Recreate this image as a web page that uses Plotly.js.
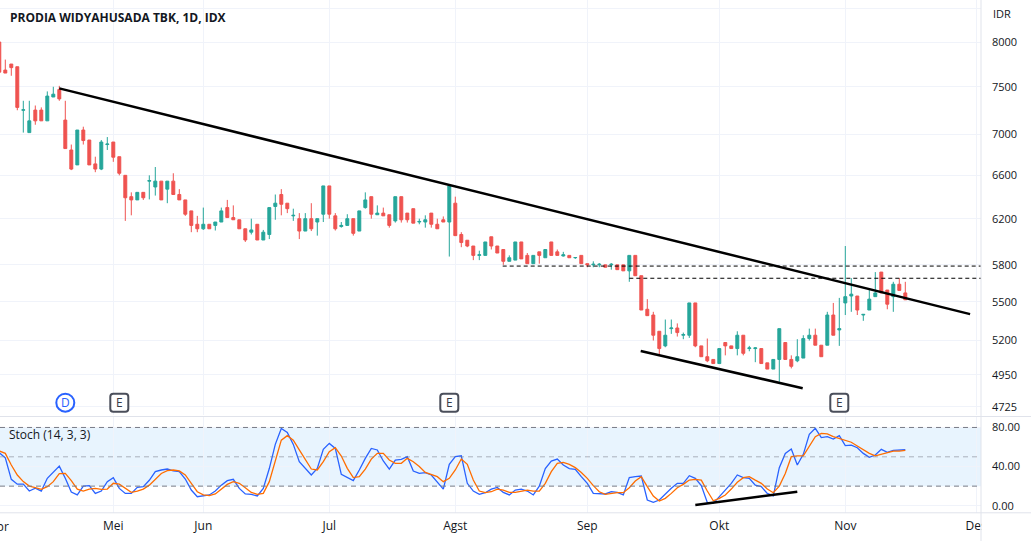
<!DOCTYPE html>
<html>
<head>
<meta charset="utf-8">
<script src="https://cdn.plot.ly/plotly-3.0.1.min.js"></script>
<style>html,body{margin:0;padding:0;background:#fff;}#chart{width:1031px;height:541px;}</style>
</head>
<body>
<div id="chart"></div>
<script>
// ---- data ----
const bars = Array.from({length: 152}, (_, i) => i + 1); // trading-bar index
const openP = [8000,7683,7750,7720,7250,7020,7252,7252,7140,7390,
7470,7148,6846,6700,7046,6945,6710,6660,6900,6925,
6780,6600,6400,6370,6440,6545,6490,6545,6470,6545,
6420,6370,6270,6150,6110,6150,6140,6170,6300,6210,
6190,6110,6080,6150,6012,6060,6310,6420,6340,6225,
6200,6090,6200,6170,6240,6500,6225,6130,6140,6200,
6090,6300,6400,6235,6250,6235,6180,6400,6250,6290,
6170,6170,6250,6150,6190,6170,6340,6060,6010,5960,
5880,5880,6040,5960,5930,5830,5840,5995,5880,5810,
5910,5860,5995,5910,5875,5880,5860,5880,5810,5800,
5800,5800,5800,5800,5800,5750,5880,5710,5440,5395,
5270,5160,5290,5295,5240,5240,5490,5160,5080,5060,
5030,5185,5160,5140,5240,5140,5140,5140,5035,4990,
5060,5185,5060,5050,5070,5215,5240,5165,5165,5395,
5280,5490,5545,5545,5395,5434,5540,5740,5593,5540,
5640,5570];
const highP = [8000,7800,7750,7720,7350,7350,7300,7280,7450,7500,
7510,7350,6900,7046,7080,6945,6780,6945,6975,6925,
6780,6600,6440,6440,6440,6600,6680,6545,6545,6620,
6470,6370,6270,6225,6300,6150,6170,6300,6370,6320,
6190,6110,6200,6150,6100,6300,6420,6470,6340,6290,
6250,6250,6340,6200,6500,6500,6250,6170,6240,6200,
6270,6440,6400,6320,6300,6235,6400,6400,6250,6290,
6200,6230,6250,6200,6220,6510,6400,6080,6010,5960,
5920,5995,6040,5960,5930,5880,5995,5995,5900,5880,
5910,5930,5995,5930,5910,5880,5865,5880,5810,5830,
5815,5800,5815,5800,5800,5880,5880,5710,5520,5420,
5270,5360,5360,5330,5260,5490,5490,5160,5215,5060,
5140,5185,5160,5270,5240,5160,5150,5140,5035,5060,
5290,5185,5090,5210,5240,5290,5290,5165,5420,5490,
5530,5960,5690,5545,5400,5593,5740,5740,5593,5660,
5690,5660];
const lowP = [7640,7650,7620,7250,7020,7020,7100,7140,7140,7390,
7350,6860,6650,6700,6900,6700,6630,6650,6846,6730,
6600,6180,6230,6370,6370,6375,6410,6370,6340,6420,
6370,6225,6080,6080,6100,6110,6095,6170,6210,6190,
6110,5995,6060,6012,6012,6020,6190,6230,6250,6180,
6020,6090,6090,6050,6170,6200,6095,6120,6140,6050,
6090,6290,6200,6235,6225,6120,6165,6165,6165,6160,
6150,6120,6120,6110,6170,5870,6050,5950,5950,5840,
5840,5880,5930,5900,5800,5830,5840,5850,5810,5810,
5810,5860,5880,5880,5870,5860,5850,5810,5780,5780,
5780,5780,5760,5760,5750,5660,5710,5434,5390,5200,
5090,5150,5250,5230,5210,5220,5150,5080,5040,5030,
5030,5090,5140,5090,5090,5120,5040,5030,4990,4990,
4900,5060,4995,5040,5070,5200,5165,5080,5165,5240,
5160,5395,5420,5395,5350,5434,5540,5570,5440,5420,
5590,5515];
const closeP = [7660,7650,7710,7280,7255,7140,7140,7140,7400,7420,
7370,6860,6660,7046,6940,6700,6660,6925,6905,6775,
6620,6390,6370,6440,6390,6550,6545,6370,6545,6420,
6370,6240,6140,6110,6150,6110,6170,6270,6210,6190,
6110,6012,6100,6012,6080,6300,6340,6330,6290,6230,
6090,6200,6110,6200,6500,6240,6110,6140,6200,6070,
6270,6370,6240,6250,6225,6140,6400,6190,6190,6160,
6175,6190,6150,6110,6170,6500,6050,5990,5960,5880,
5885,5995,5960,5900,5830,5860,5995,5850,5810,5880,
5880,5930,5880,5880,5885,5860,5862,5810,5800,5805,
5805,5780,5805,5760,5750,5880,5710,5434,5390,5240,
5140,5240,5295,5260,5245,5490,5160,5080,5050,5030,
5140,5160,5140,5240,5105,5145,5145,5030,4990,5060,
5290,5060,5010,5080,5215,5240,5165,5080,5395,5240,
5290,5540,5560,5434,5400,5520,5570,5570,5480,5640,
5590,5515];
const stochK = [54,49,27,22,22,15,18,15,28,34,
40.5,28,14,11,20,20.5,12.6,15,24.5,28.7,
17.7,12.6,12.6,18.7,19.5,26,34.8,36.5,37.5,35.5,
34.8,27.3,16,9.2,10,11,15,21,25.6,27,
17.7,12,11.6,10,17.7,38,62.7,79,75,62.7,
45,38,31.4,38,57.6,63.7,58.6,32,28.7,25.6,
36.5,48.4,58.6,57,45.7,37.5,46.7,47.4,50.1,35.5,
33,33.8,31.4,24.6,17,42.3,50.1,51,22.9,15,
11.6,13.3,17,18.7,13.6,11,16,17,15,11,
20,38,45.7,47.7,41.6,38,37.2,29.7,22.9,12.6,
12,12,14.3,13.6,11,28.7,29.7,30.3,5.8,3.4,
5.8,12,17.8,22.9,22.9,30.7,28,20.5,3.4,2.4,
9.2,16,22.9,31.4,28.7,28,21,19.5,12.6,10,
38.9,53.5,57.9,41.6,52.5,73,79.1,69.6,70.6,68.2,
71.6,61.4,62,59.3,53.5,49.4,51.8,57.6,54.5,56.6,
56.6,57.2];
const stochD = [56,53.5,41.6,31.4,24.6,20,18.4,16.7,19.5,24.6,
32.7,33,25.6,17,15,17,17.7,16.7,17,22.9,
22,17.7,13.6,15,17,21,27.3,33,35.8,36.5,
35.5,31.4,22.9,14.3,11,10.3,12,17,21.8,24.6,
22.9,18.4,13.6,11.6,12.6,24.6,45,67,71.6,67,
57,46.7,37.5,36.5,45,55.2,59.3,50.8,38.2,28.7,
29.7,37.5,47.7,53.5,53.5,46.7,43.3,43.3,48.4,45,
40,34,32,29.7,24.6,28,36.5,47.7,42.3,26.2,
15,13.3,14.3,17,16,13.6,13.6,15,16,15,
15,22.9,34.8,43.3,44.3,42.3,38.9,34,28,20.5,
14.3,11.6,12.6,13.3,13.3,18.4,25.2,29.7,19.5,9.9,
4.8,7.5,12.6,18.4,21.8,26.2,27,26.2,15,5,
7.5,11,17,23.9,28.7,29.7,26.2,22.9,17,13.3,
20,33,50.1,51,51,60.3,70.6,74,73.4,70.6,
68.9,67.2,64.9,61.1,57.6,53.5,51,52.8,54.5,55.9,
55.9,56.6];
// drawings (bar index, price / stoch value)
const trendUpperX = [11, 162.8], trendUpperY = [7483, 5402];
const trendLowerX = [107.9, 134.9], trendLowerY = [5122, 4854];
const level1X = [84.9, 164.7], level1Y = [5790, 5790];
const level2X = [106, 164.7], level2Y = [5689, 5689];
const stochTrendX = [117, 134], stochTrendY = [0.7, 14.3];
// axis ticks
const monthTickIdx = [20, 35, 56, 77, 99, 121, 142, 163.8];
const monthLabels = ['Mei', 'Jun', 'Jul', 'Agst', 'Sep', 'Okt', 'Nov', 'Des'];
const priceTicks = [8400, 8000, 7500, 7000, 6600, 6200, 5800, 5500, 5200, 4950, 4725];
const priceLabels = ['', '8000', '7500', '7000', '6600', '6200', '5800', '5500', '5200', '4950', '4725'];
const stochTicks = [0, 40, 80];
const stochLabels = ['0.00', '40.00', '80.00'];
const dividendIdx = [12];
const earningsIdx = [21, 76, 141];

// ---- layout helpers ----
const W = 1031, H = 541, ML = 0, MR = 50, MT = 0, MB = 28;
const PW = W - ML - MR, PH = H - MT - MB;
const px2x = p => (p - ML) / PW;
const py2y = p => (PH + MT - p) / PH;
const FONT = 'Open Sans, sans-serif';
const TXT = '#131722';
const GRID = '#f0f3fa';
const BORDER = '#e0e3eb';

const traces = [
  {type: 'candlestick', x: bars, open: openP, high: highP, low: lowP, close: closeP,
   xaxis: 'x', yaxis: 'y', whiskerwidth: 0, hoverinfo: 'skip',
   increasing: {line: {color: '#26a69a', width: 1}, fillcolor: '#26a69a'},
   decreasing: {line: {color: '#ef5350', width: 1}, fillcolor: '#ef5350'}},
  {type: 'scatter', mode: 'lines', x: level1X, y: level1Y, yaxis: 'y',
   line: {color: '#000', width: 1, dash: '4px,3px'}, hoverinfo: 'skip'},
  {type: 'scatter', mode: 'lines', x: level2X, y: level2Y, yaxis: 'y',
   line: {color: '#000', width: 1, dash: '4px,3px'}, hoverinfo: 'skip'},
  {type: 'scatter', mode: 'lines', x: trendUpperX, y: trendUpperY, yaxis: 'y',
   line: {color: '#000', width: 2.5}, hoverinfo: 'skip'},
  {type: 'scatter', mode: 'lines', x: trendLowerX, y: trendLowerY, yaxis: 'y',
   line: {color: '#000', width: 2.5}, hoverinfo: 'skip'},
  {type: 'scatter', mode: 'lines', x: bars, y: stochK, yaxis: 'y2',
   line: {color: '#2962ff', width: 1.3}, hoverinfo: 'skip'},
  {type: 'scatter', mode: 'lines', x: bars, y: stochD, yaxis: 'y2',
   line: {color: '#ff6d00', width: 1.3}, hoverinfo: 'skip'},
  {type: 'scatter', mode: 'lines', x: stochTrendX, y: stochTrendY, yaxis: 'y2',
   line: {color: '#000', width: 2.5}, hoverinfo: 'skip'}
];

const markerY = py2y(402.7);
const shapes = [
  {type: 'rect', xref: 'paper', yref: 'y2', x0: 0, x1: 1, y0: 20, y1: 80,
   fillcolor: 'rgba(33,150,243,0.1)', line: {width: 0}, layer: 'below'},
  {type: 'line', xref: 'paper', yref: 'y2', x0: 0, x1: 1, y0: 80, y1: 80,
   line: {color: '#787b86', width: 1, dash: '5px,4px'}},
  {type: 'line', xref: 'paper', yref: 'y2', x0: 0, x1: 1, y0: 50, y1: 50,
   line: {color: 'rgba(120,123,134,0.55)', width: 1, dash: '5px,4px'}},
  {type: 'line', xref: 'paper', yref: 'y2', x0: 0, x1: 1, y0: 20, y1: 20,
   line: {color: '#787b86', width: 1, dash: '5px,4px'}},
  // cover right part of the last month label (price-scale column)
  {type: 'rect', xref: 'paper', yref: 'paper', x0: px2x(981.5), x1: px2x(1035), y0: py2y(513.5), y1: py2y(545),
   fillcolor: '#fff', line: {width: 0}, layer: 'above'},
  {type: 'line', xref: 'paper', yref: 'paper', x0: px2x(0), x1: px2x(1031), y0: py2y(416.5), y1: py2y(416.5),
   line: {color: BORDER, width: 1}},
  {type: 'line', xref: 'paper', yref: 'paper', x0: px2x(0), x1: px2x(1031), y0: py2y(512.8), y1: py2y(512.8),
   line: {color: BORDER, width: 1}},
  {type: 'line', xref: 'paper', yref: 'paper', x0: px2x(981), x1: px2x(981), y0: py2y(0), y1: py2y(541),
   line: {color: BORDER, width: 1}}
];
const annotations = [
  {xref: 'paper', yref: 'paper', x: px2x(8), y: py2y(17), xanchor: 'left', yanchor: 'middle', showarrow: false,
   text: '<b>PRODIA WIDYAHUSADA TBK, 1D, IDX</b>', font: {family: FONT, size: 12, color: TXT}},
  {xref: 'paper', yref: 'paper', x: px2x(991), y: py2y(13.7), xanchor: 'left', yanchor: 'middle', showarrow: false,
   text: 'IDR', font: {family: FONT, size: 11, color: TXT}},
  {xref: 'paper', yref: 'paper', x: px2x(7), y: py2y(434), xanchor: 'left', yanchor: 'middle', showarrow: false,
   text: 'Stoch (14, 3, 3)', font: {family: FONT, size: 12, color: TXT}},
  {xref: 'paper', yref: 'paper', x: px2x(-0.7), y: py2y(527), xanchor: 'center', yanchor: 'middle', showarrow: false,
   text: 'Apr', font: {family: FONT, size: 12, color: TXT}}
];
dividendIdx.forEach(ix => {
  shapes.push({type: 'circle', xref: 'x', yref: 'paper', xsizemode: 'pixel', ysizemode: 'pixel',
    xanchor: ix, yanchor: markerY, x0: -9, x1: 9, y0: -9, y1: 9,
    fillcolor: '#fff', line: {color: '#2962ff', width: 2}, layer: 'above'});
  annotations.push({xref: 'x', yref: 'paper', x: ix, y: markerY, showarrow: false, xanchor: 'center', yanchor: 'middle',
    text: 'D', font: {family: FONT, size: 12, color: '#2962ff'}});
});
earningsIdx.forEach(ix => {
  shapes.push({type: 'path', xref: 'x', yref: 'paper', xsizemode: 'pixel', ysizemode: 'pixel',
    xanchor: ix, yanchor: markerY,
    path: 'M -9,-6 Q -9,-9 -6,-9 L 6,-9 Q 9,-9 9,-6 L 9,6 Q 9,9 6,9 L -6,9 Q -9,9 -9,6 Z',
    fillcolor: '#fff', line: {color: '#4a4e5a', width: 2}, layer: 'above'});
  annotations.push({xref: 'x', yref: 'paper', x: ix, y: markerY, showarrow: false, xanchor: 'center', yanchor: 'middle',
    text: 'E', font: {family: FONT, size: 12, color: '#363a45'}});
});

const layout = {
  width: W, height: H,
  margin: {l: ML, r: MR, t: MT, b: MB, pad: 0},
  paper_bgcolor: '#fff', plot_bgcolor: '#fff',
  showlegend: false, hovermode: false, dragmode: false,
  boxgap: 0.3,
  font: {family: FONT, color: TXT},
  xaxis: {range: [(0 + 0.7) / 6 + 1, (PW + 0.7) / 6 + 1], anchor: 'y2',
    tickmode: 'array', tickvals: monthTickIdx, ticktext: monthLabels,
    showgrid: true, gridcolor: GRID, gridwidth: 1, zeroline: false, showline: false, ticks: '',
    tickfont: {family: FONT, size: 12, color: TXT}, ticklabelstandoff: 4,
    rangeslider: {visible: false}, fixedrange: true},
  yaxis: {domain: [py2y(415), 1], type: 'log',
    range: [Math.log10(4670.1), Math.log10(8500.6)], side: 'right', anchor: 'x',
    tickmode: 'array', tickvals: priceTicks, ticktext: priceLabels,
    showgrid: true, gridcolor: GRID, zeroline: false, showline: false, ticks: '',
    tickfont: {family: FONT, size: 11, color: TXT}, ticklabelstandoff: 10, fixedrange: true},
  yaxis2: {domain: [0, py2y(416.7)], range: [-7.46, 91.0], side: 'right', anchor: 'x',
    tickmode: 'array', tickvals: stochTicks, ticktext: stochLabels,
    showgrid: true, gridcolor: GRID, zeroline: false, showline: false, ticks: '',
    tickfont: {family: FONT, size: 11, color: TXT}, ticklabelstandoff: 10, fixedrange: true},
  shapes: shapes,
  annotations: annotations
};

Plotly.newPlot('chart', traces, layout, {displayModeBar: false, staticPlot: true, responsive: false});
</script>
</body>
</html>
